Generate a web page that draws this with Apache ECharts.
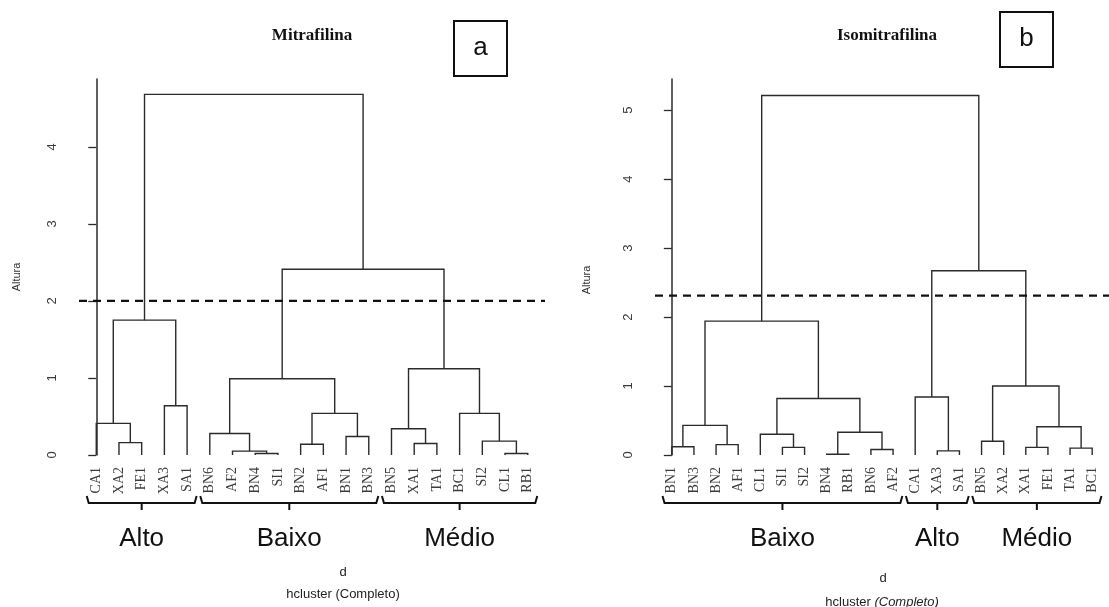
<!DOCTYPE html>
<html>
<head>
<meta charset="utf-8">
<script src="https://cdn.jsdelivr.net/npm/echarts@6/dist/echarts.min.js"></script>
<style>
  html, body { margin: 0; padding: 0; background: #fff; }
  #c { width: 1109px; height: 607px; }
</style>
</head>
<body>
<div id="c"></div>
<script>
// ---- Panel a: Mitrafilina -------------------------------------------------
// Leaf order along the x axis.
const leavesA = ['CA1','XA2','FE1','XA3','SA1','BN6','AF2','BN4','SI1','BN2',
                 'AF1','BN1','BN3','BN5','XA1','TA1','BC1','SI2','CL1','RB1'];
// Agglomeration steps: a string is a leaf, a number is an earlier step.
const mergesA = [
  ['BN4','SI1'], ['CL1','RB1'], ['AF2',0], ['BN2','AF1'], ['XA1','TA1'],
  ['XA2','FE1'], ['SI2',1], ['BN1','BN3'], ['BN6',2], ['BN5',4],
  ['CA1',5], [3,7], ['BC1',6], ['XA3','SA1'], [8,11],
  [9,12], [10,13], [14,15], [16,17]
];
// Height of each step.
const heightsA = [0.02, 0.02, 0.05, 0.14, 0.15, 0.16, 0.18, 0.24, 0.28, 0.34,
                  0.41, 0.54, 0.54, 0.64, 0.99, 1.12, 1.75, 2.41, 4.68];
const cutA = 2.0;
const groupsA = [['Alto', 0, 4], ['Baixo', 5, 12], ['Médio', 13, 19]];
const yTicksA = [0, 1, 2, 3, 4];

// ---- Panel b: Isomitrafilina ----------------------------------------------
const leavesB = ['BN1','BN3','BN2','AF1','CL1','SI1','SI2','BN4','RB1','BN6',
                 'AF2','CA1','XA3','SA1','BN5','XA2','XA1','FE1','TA1','BC1'];
const mergesB = [
  ['BN4','RB1'], ['XA3','SA1'], ['BN6','AF2'], ['TA1','BC1'], ['SI1','SI2'],
  ['XA1','FE1'], ['BN1','BN3'], ['BN2','AF1'], ['BN5','XA2'], ['CL1',4],
  [0,2], [5,3], [6,7], [9,10], ['CA1',1],
  [8,11], [12,13], [14,15], [16,17]
];
const heightsB = [0.01, 0.06, 0.08, 0.10, 0.11, 0.11, 0.12, 0.15, 0.20, 0.30,
                  0.33, 0.41, 0.43, 0.82, 0.84, 1.00, 1.94, 2.67, 5.21];
const cutB = 2.31;
const groupsB = [['Baixo', 0, 10], ['Alto', 11, 13], ['Médio', 14, 19]];
const yTicksB = [0, 1, 2, 3, 4, 5];

// Turn the merge table into U-shaped links: [xLeft, hLeft, xRight, hRight, h].
// Each joined node sits midway between its two children; leaves hang to 0.
function buildLinks(leaves, merges, heights) {
  const nodeX = [], links = [];
  const place = c => typeof c === 'string'
    ? [leaves.indexOf(c), 0]
    : [nodeX[c], heights[c]];
  merges.forEach(([l, r], i) => {
    const [xl, hl] = place(l);
    const [xr, hr] = place(r);
    nodeX[i] = (xl + xr) / 2;
    links.push([xl, hl, xr, hr, heights[i]]);
  });
  return links;
}

const LINE = '#2b2b2b';
const SANS = '"Liberation Sans", Arial, sans-serif';
const SERIF = '"Liberation Serif", "Times New Roman", serif';

function panelSeries(k, leaves, merges, heights, cut, groups) {
  return [
    {
      type: 'custom', xAxisIndex: k, yAxisIndex: k, clip: false, silent: true,
      data: buildLinks(leaves, merges, heights),
      encode: { x: [0, 2], y: [1, 3, 4] },
      renderItem: (params, api) => {
        const pts = [
          api.coord([api.value(0), api.value(1)]),
          api.coord([api.value(0), api.value(4)]),
          api.coord([api.value(2), api.value(4)]),
          api.coord([api.value(2), api.value(3)])
        ];
        return { type: 'polyline', shape: { points: pts },
                 style: { stroke: LINE, lineWidth: 1.4, fill: null } };
      }
    },
    {
      // leaf names under each branch, written bottom-to-top
      type: 'custom', xAxisIndex: k, yAxisIndex: k, clip: false, silent: true,
      data: leaves.map((_, i) => [i, 0]),
      renderItem: (params, api) => {
        const p = api.coord([api.value(0), 0]);
        return { type: 'text', x: p[0], y: p[1] + 12, rotation: Math.PI / 2,
                 style: { text: leaves[params.dataIndex], font: '14px ' + SERIF,
                          fill: '#3c3c3c', align: 'right', verticalAlign: 'middle' } };
      }
    },
    {
      // braces grouping the leaves, with the group name below
      type: 'custom', xAxisIndex: k, yAxisIndex: k, clip: false, silent: true,
      data: groups.map(g => [g[1], g[2]]),
      renderItem: (params, api) => {
        const pad = 0.42;
        const a = api.coord([api.value(0) - pad, 0]);
        const b = api.coord([api.value(1) + pad, 0]);
        const y = a[1] + 48, mid = (a[0] + b[0]) / 2;
        return {
          type: 'group',
          children: [
            { type: 'polyline',
              shape: { points: [[a[0], y - 7], [a[0] + 2, y], [b[0] - 2, y], [b[0], y - 7]] },
              style: { stroke: '#111', lineWidth: 2, fill: null } },
            { type: 'line', shape: { x1: mid, y1: y, x2: mid, y2: y + 7 },
              style: { stroke: '#111', lineWidth: 2 } },
            { type: 'text', x: mid, y: a[1] + 84,
              style: { text: groups[params.dataIndex][0], font: '26px ' + SANS,
                       fill: '#111', align: 'center', verticalAlign: 'middle' } }
          ]
        };
      }
    },
    {
      // cut height
      type: 'line', xAxisIndex: k, yAxisIndex: k, silent: true, symbol: 'none',
      data: [[-0.76, cut], [19.76, cut]],
      lineStyle: { color: '#111', width: 2.2, type: [8, 6] }
    }
  ];
}

function yAxisFor(k, max, ticks) {
  return {
    type: 'value', gridIndex: k, min: 0, max: max,
    splitLine: { show: false },
    axisLine: { show: true, lineStyle: { color: LINE, width: 1.5 } },
    axisTick: { show: true, length: 8, customValues: ticks,
                lineStyle: { color: LINE, width: 1.3 } },
    axisLabel: { customValues: ticks, rotate: 90, margin: 20,
                 fontFamily: SANS, fontSize: 13, color: '#3a3a3a' }
  };
}

const xAxisFor = k => ({ type: 'value', gridIndex: k, min: -0.76, max: 19.76, show: false });

const chart = echarts.init(document.getElementById('c'));
chart.setOption({
  backgroundColor: '#fff',
  animation: false,
  grid: [
    { left: 79, top: 79, bottom: 152, width: 466 },
    { left: 655, top: 79, bottom: 152, width: 466 }
  ],
  xAxis: [xAxisFor(0), xAxisFor(1)],
  yAxis: [yAxisFor(0, 4.88, yTicksA), yAxisFor(1, 5.45, yTicksB)],
  series: [
    ...panelSeries(0, leavesA, mergesA, heightsA, cutA, groupsA),
    ...panelSeries(1, leavesB, mergesB, heightsB, cutB, groupsB)
  ],
  graphic: [
    { type: 'text', x: 312, y: 36, style: { text: 'Mitrafilina', font: 'bold 17px ' + SERIF,
      fill: '#111', align: 'center', verticalAlign: 'middle' } },
    { type: 'text', x: 887, y: 36, style: { text: 'Isomitrafilina', font: 'bold 17px ' + SERIF,
      fill: '#111', align: 'center', verticalAlign: 'middle' } },
    { type: 'rect', shape: { x: 454, y: 21, width: 53, height: 55 },
      style: { fill: '#fff', stroke: '#111', lineWidth: 2 } },
    { type: 'text', x: 480.5, y: 48, style: { text: 'a', font: '26px ' + SANS,
      fill: '#111', align: 'center', verticalAlign: 'middle' } },
    { type: 'rect', shape: { x: 1000, y: 12, width: 53, height: 55 },
      style: { fill: '#fff', stroke: '#111', lineWidth: 2 } },
    { type: 'text', x: 1026.5, y: 39, style: { text: 'b', font: '26px ' + SANS,
      fill: '#111', align: 'center', verticalAlign: 'middle' } },
    { type: 'text', x: 17, y: 277, rotation: Math.PI / 2, style: { text: 'Altura',
      font: '11px ' + SANS, fill: '#333', align: 'center', verticalAlign: 'middle' } },
    { type: 'text', x: 587, y: 280, rotation: Math.PI / 2, style: { text: 'Altura',
      font: '11px ' + SANS, fill: '#333', align: 'center', verticalAlign: 'middle' } },
    { type: 'text', x: 343, y: 572, style: { text: 'd', font: '13px ' + SANS,
      fill: '#222', align: 'center', verticalAlign: 'middle' } },
    { type: 'text', x: 343, y: 594, style: { text: 'hcluster (Completo)', font: '13px ' + SANS,
      fill: '#222', align: 'center', verticalAlign: 'middle' } },
    { type: 'text', x: 883, y: 578, style: { text: 'd', font: '13px ' + SANS,
      fill: '#222', align: 'center', verticalAlign: 'middle' } },
    { type: 'text', x: 882, y: 602, style: {
      text: '{n|hcluster }{i|(Completo)}', align: 'center', verticalAlign: 'middle',
      rich: { n: { font: '13px ' + SANS, fill: '#222' },
              i: { font: 'italic 13px ' + SANS, fill: '#222' } } } }
  ]
});
</script>
</body>
</html>
